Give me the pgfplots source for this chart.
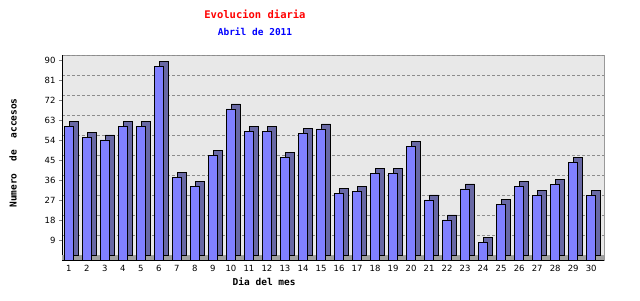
\documentclass[border=0pt]{standalone}
\usepackage{pgfplots}
\pgfplotsset{compat=1.18}
\usepackage{pgfplotstable}
\usepackage{fontspec}
\setmainfont{DejaVu Sans}
\setmonofont{DejaVu Sans Mono}
\definecolor{barfront}{HTML}{8080FF}
\definecolor{barside}{HTML}{6868A4}
\definecolor{bg}{HTML}{E8E8E8}
\definecolor{floorc}{HTML}{A0A0A0}
\pgfplotstableread{
x y
1 60
2 55
3 54
4 60
5 60
6 87
7 37
8 33
9 47
10 68
11 58
12 58
13 46
14 57
15 59
16 30
17 31
18 39
19 39
20 51
21 27
22 18
23 32
24 8
25 25
26 33
27 29
28 34
29 44
30 29
}\datatable
\begin{document}
\begin{tikzpicture}[x=1pt,y=1pt]
\path[use as bounding box] (-62,-40) rectangle (578,260);
\begin{axis}[
  at={(0,0)}, anchor=south west,
  width=542pt, height=205pt, scale only axis,
  xmin=0.62, xmax=30.71, ymin=0, ymax=92.25,
  axis lines=left, axis line style={-, black},
  axis background/.style={fill=bg, draw=gray!80},
  xtick={1,...,30}, ytick={9,18,...,90},
  xtick style={draw=none},
  minor xtick={1.55,2.55,...,30.55},
  minor x tick style={black},
  minor tick length=4pt, major tick length=3pt,
  tick align=outside,
  ymajorgrids, major grid style={densely dashed, gray!90, yshift=5pt},
  /pgf/number format/assume math mode=true,
  ticklabel style={font=\fontsize{8.5}{10}\selectfont},
  xticklabel style={yshift=1pt},
  xlabel={\ttfamily\bfseries Dia del mes},
  ylabel={\ttfamily\bfseries Numero\hspace{6pt} de\hspace{6pt} accesos},
  label style={font=\fontsize{9.5}{11}\selectfont},
  xlabel style={at={(axis description cs:0.373,0)}, anchor=center, yshift=-22pt},
  ylabel style={at={(axis description cs:-0.0904,0.522)}, anchor=center},
  clip=false,
]
\addplot[fill=floorc, draw=none] coordinates {(0.62,2.25) (30.71,2.25)} \closedcycle;
\addplot[ybar, bar width=9pt, bar shift=5pt, yshift=5pt, fill=barside, draw=black, line width=0.6pt] table[x=x,y=y]{\datatable};
\addplot[ybar, bar width=9pt, bar shift=0pt, fill=barfront, draw=black, line width=0.6pt] table[x=x,y=y]{\datatable};
\end{axis}
\node[font=\ttfamily\bfseries\fontsize{10.5}{12}\selectfont, text=red] at (193,246) {Evolucion diaria};
\node[font=\ttfamily\bfseries\fontsize{9.5}{11}\selectfont, text=blue] at (193,228) {Abril de 2011};
\end{tikzpicture}
\end{document}
